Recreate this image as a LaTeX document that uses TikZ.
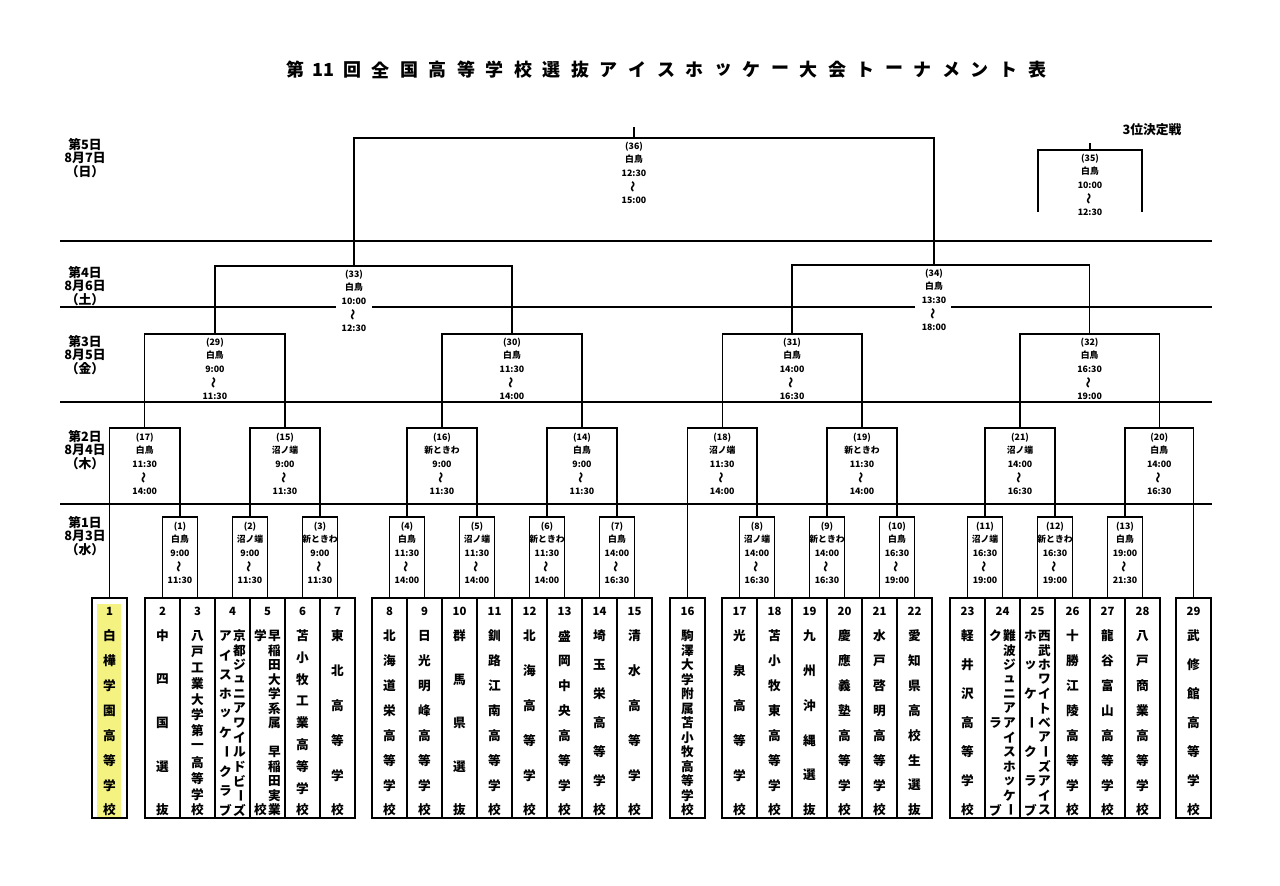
\documentclass[tikz,border=0pt]{standalone}
\usepackage{fontspec}
\newfontfamily\cjk{Noto Sans CJK JP}
\definecolor{hl}{RGB}{244,242,128}
\newcommand\vl{\rotatebox[origin=c]{-90}{ー}}
\newcommand\wv{\smash{\rotatebox[origin=c]{90}{\fontsize{8.5}{8.5}\selectfont ～}}}
\newcommand\tcol[4]{\foreach \tc [count=\kk] in {#4} {\node[tchar] (#3-\kk) at ({#1},{636+(\kk-1)*174/(#2-1)}) {\tc};}}
\begin{document}
\begin{tikzpicture}[x=0.75pt,y=-0.75pt,line width=1.1pt,
  every node/.style={inner sep=0pt,font=\cjk\bfseries},
  teambox/.style={draw,line width=1.1pt,minimum width=26.25pt,minimum height=165pt},
  mlabel/.style={align=center,anchor=north,font=\cjk\bfseries\fontsize{6.6}{10.1}\selectfont},
  tchar/.style={font=\cjk\bfseries\fontsize{9.5}{10}\selectfont},
  tnum/.style={font=\cjk\bfseries\fontsize{8.5}{10}\selectfont},
  dayl/.style={align=center,font=\cjk\bfseries\fontsize{9.6}{9.9}\selectfont},
  ttl/.style={font=\cjk\bfseries\fontsize{13.5}{14}\selectfont},
  dayline/.style={line width=1.1pt}]
\fill[white] (0,0) rectangle (1280,885);
\useasboundingbox (0,0) rectangle (1280,885);
% title
\foreach \tc [count=\kk] in {第,11,回,全,国,高,等,学,校,選,抜,ア,イ,ス,ホ,ッ,ケ,ー,大,会,ト,ー,ナ,メ,ン,ト,表}
  \node[ttl] (ttl\kk) at ({295+(\kk-1)*28.54},70) {\tc};
% day lines
\draw[dayline] (60,241) -- (1212,241);
\draw[dayline] (60,307) -- (336,307);
\draw[dayline] (372,307) -- (915,307);
\draw[dayline] (951,307) -- (1212,307);
\draw[dayline] (60,402) -- (1212,402);
\draw[dayline] (60,504) -- (1212,504);
% day labels
\node[dayl] (d5) at (85,158) {第5日\\8月7日\\（日）};
\node[dayl] (d4) at (85,286) {第4日\\8月6日\\（土）};
\node[dayl] (d3) at (85,355) {第3日\\8月5日\\（金）};
\node[dayl] (d2) at (85,450) {第2日\\8月4日\\（木）};
\node[dayl] (d1) at (85,536) {第1日\\8月3日\\（水）};
\node[dayl] (third) at (1152,130) {3位決定戦};
% highlight
\fill[hl] (97,604) rectangle (121,817);
% team boxes
\node[teambox] (t1) at (109.5,708) {};
\foreach \i in {2,...,7} \node[teambox] (t\i) at ({162.5+35*(\i-2)},708) {};
\foreach \i in {8,...,15} \node[teambox] (t\i) at ({389.5+35*(\i-8)},708) {};
\node[teambox] (t16) at (687.5,708) {};
\foreach \i in {17,...,22} \node[teambox] (t\i) at ({739.5+35*(\i-17)},708) {};
\foreach \i in {23,...,28} \node[teambox] (t\i) at ({967.5+35*(\i-23)},708) {};
\node[teambox] (t29) at (1193.5,708) {};
% team numbers
\node[tnum] (n1) at (109.5,611) {1};
\foreach \i in {2,...,7} \node[tnum] (n\i) at ({162.5+35*(\i-2)},611) {\i};
\foreach \i in {8,...,15} \node[tnum] (n\i) at ({389.5+35*(\i-8)},611) {\i};
\node[tnum] (n16) at (687.5,611) {16};
\foreach \i in {17,...,22} \node[tnum] (n\i) at ({739.5+35*(\i-17)},611) {\i};
\foreach \i in {23,...,28} \node[tnum] (n\i) at ({967.5+35*(\i-23)},611) {\i};
\node[tnum] (n29) at (1193.5,611) {29};
% team names
\tcol{109.5}{8}{c1}{白,樺,学,園,高,等,学,校}
\tcol{162.5}{5}{c2}{中,四,国,選,抜}
\tcol{197.5}{12}{c3}{八,戸,工,業,大,学,第,一,高,等,学,校}
\tcol{239.5}{13}{c4r}{京,都,ジ,ュ,ニ,ア,ワ,イ,ル,ド,ビ,\vl,ズ}
\tcol{225.5}{10}{c4l}{ア,イ,ス,ホ,ッ,ケ,\vl,ク,ラ,ブ}
\tcol{274.5}{13}{c5r}{早,稲,田,大,学,系,属,{},早,稲,田,実,業}
\tcol{260.5}{2}{c5l}{学,校}
\tcol{302.5}{9}{c6}{苫,小,牧,工,業,高,等,学,校}
\tcol{337.5}{6}{c7}{東,北,高,等,学,校}
\tcol{389.5}{8}{c8}{北,海,道,栄,高,等,学,校}
\tcol{424.5}{8}{c9}{日,光,明,峰,高,等,学,校}
\tcol{459.5}{5}{c10}{群,馬,県,選,抜}
\tcol{494.5}{8}{c11}{釧,路,江,南,高,等,学,校}
\tcol{529.5}{6}{c12}{北,海,高,等,学,校}
\tcol{564.5}{8}{c13}{盛,岡,中,央,高,等,学,校}
\tcol{599.5}{7}{c14}{埼,玉,栄,高,等,学,校}
\tcol{634.5}{6}{c15}{清,水,高,等,学,校}
\tcol{687.5}{13}{c16}{駒,澤,大,学,附,属,苫,小,牧,高,等,学,校}
\tcol{739.5}{6}{c17}{光,泉,高,等,学,校}
\tcol{774.5}{8}{c18}{苫,小,牧,東,高,等,学,校}
\tcol{809.5}{6}{c19}{九,州,沖,縄,選,抜}
\tcol{844.5}{8}{c20}{慶,應,義,塾,高,等,学,校}
\tcol{879.5}{8}{c21}{水,戸,啓,明,高,等,学,校}
\tcol{914.5}{8}{c22}{愛,知,県,高,校,生,選,抜}
\tcol{967.5}{7}{c23}{軽,井,沢,高,等,学,校}
\tcol{1009.5}{13}{c24r}{難,波,ジ,ュ,ニ,ア,ア,イ,ス,ホ,ッ,ケ,\vl}
\tcol{995.5}{3}{c24l}{ク,ラ,ブ}
\tcol{1044.5}{13}{c25r}{西,武,ホ,ワ,イ,ト,ベ,ア,\vl,ズ,ア,イ,ス}
\tcol{1030.5}{7}{c25l}{ホ,ッ,ケ,\vl,ク,ラ,ブ}
\tcol{1072.5}{8}{c26}{十,勝,江,陵,高,等,学,校}
\tcol{1107.5}{8}{c27}{龍,谷,富,山,高,等,学,校}
\tcol{1142.5}{8}{c28}{八,戸,商,業,高,等,学,校}
\tcol{1193.5}{7}{c29}{武,修,館,高,等,学,校}
% match coordinates
\coordinate (m36) at (634,138);
\coordinate (f36) at (634,127);
\coordinate (m35) at (1090,150);
\coordinate (f35) at (1090,143);
\coordinate (a35) at (1038,212);
\coordinate (b35) at (1142,212);
\coordinate (m33) at (354,266);
\coordinate (m34) at (934,265);
\coordinate (m29) at (214.9,334);
\coordinate (m30) at (512,334);
\coordinate (m31) at (792.1,334);
\coordinate (m32) at (1089.6,334);
\coordinate (m17) at (144.75,428);
\coordinate (m15) at (285,428);
\coordinate (m16) at (442,428);
\coordinate (m14) at (582,428);
\coordinate (m18) at (722.25,428);
\coordinate (m19) at (862,428);
\coordinate (m21) at (1020,428);
\coordinate (m20) at (1159.25,428);
\coordinate (m1) at (180,517);
\coordinate (m2) at (250,517);
\coordinate (m3) at (320,517);
\coordinate (m4) at (407,517);
\coordinate (m5) at (477,517);
\coordinate (m6) at (547,517);
\coordinate (m7) at (617,517);
\coordinate (m8) at (757,517);
\coordinate (m9) at (827,517);
\coordinate (m10) at (897,517);
\coordinate (m11) at (985,517);
\coordinate (m12) at (1055,517);
\coordinate (m13) at (1125,517);
% round 1
\draw (t2.north) |- (m1) -| (t3.north);
\draw (t4.north) |- (m2) -| (t5.north);
\draw (t6.north) |- (m3) -| (t7.north);
\draw (t8.north) |- (m4) -| (t9.north);
\draw (t10.north) |- (m5) -| (t11.north);
\draw (t12.north) |- (m6) -| (t13.north);
\draw (t14.north) |- (m7) -| (t15.north);
\draw (t17.north) |- (m8) -| (t18.north);
\draw (t19.north) |- (m9) -| (t20.north);
\draw (t21.north) |- (m10) -| (t22.north);
\draw (t23.north) |- (m11) -| (t24.north);
\draw (t25.north) |- (m12) -| (t26.north);
\draw (t27.north) |- (m13) -| (t28.north);
% round 2
\draw (t1.north) |- (m17) -| (m1);
\draw (m2) |- (m15) -| (m3);
\draw (m4) |- (m16) -| (m5);
\draw (m6) |- (m14) -| (m7);
\draw (t16.north) |- (m18) -| (m8);
\draw (m9) |- (m19) -| (m10);
\draw (m11) |- (m21) -| (m12);
\draw (m13) |- (m20) -| (t29.north);
% round 3
\draw (m17) |- (m29) -| (m15);
\draw (m16) |- (m30) -| (m14);
\draw (m18) |- (m31) -| (m19);
\draw (m21) |- (m32) -| (m20);
% semifinals and final
\draw (m29) |- (m33) -| (m30);
\draw (m31) |- (m34) -| (m32);
\draw (m33) |- (m36) -| (m34);
\draw (m36) -- (f36);
\draw (a35) |- (m35) -| (b35);
\draw (m35) -- (f35);
% match labels
\node[mlabel] (l36) at (634,141) {(36)\\白鳥\\12:30\\\wv\\15:00};
\node[mlabel] (l35) at (1090,153) {(35)\\白鳥\\10:00\\\wv\\12:30};
\node[mlabel] (l33) at (354,269) {(33)\\白鳥\\10:00\\\wv\\12:30};
\node[mlabel] (l34) at (934,268) {(34)\\白鳥\\13:30\\\wv\\18:00};
\node[mlabel] (l29) at (214.9,337) {(29)\\白鳥\\9:00\\\wv\\11:30};
\node[mlabel] (l30) at (512,337) {(30)\\白鳥\\11:30\\\wv\\14:00};
\node[mlabel] (l31) at (792.1,337) {(31)\\白鳥\\14:00\\\wv\\16:30};
\node[mlabel] (l32) at (1089.6,337) {(32)\\白鳥\\16:30\\\wv\\19:00};
\node[mlabel] (l17) at (144.75,432) {(17)\\白鳥\\11:30\\\wv\\14:00};
\node[mlabel] (l15) at (285,432) {(15)\\沼ノ端\\9:00\\\wv\\11:30};
\node[mlabel] (l16) at (442,432) {(16)\\新ときわ\\9:00\\\wv\\11:30};
\node[mlabel] (l14) at (582,432) {(14)\\白鳥\\9:00\\\wv\\11:30};
\node[mlabel] (l18) at (722.25,432) {(18)\\沼ノ端\\11:30\\\wv\\14:00};
\node[mlabel] (l19) at (862,432) {(19)\\新ときわ\\11:30\\\wv\\14:00};
\node[mlabel] (l21) at (1020,432) {(21)\\沼ノ端\\14:00\\\wv\\16:30};
\node[mlabel] (l20) at (1159.25,432) {(20)\\白鳥\\14:00\\\wv\\16:30};
\node[mlabel] (l1) at (180,521) {(1)\\白鳥\\9:00\\\wv\\11:30};
\node[mlabel] (l2) at (250,521) {(2)\\沼ノ端\\9:00\\\wv\\11:30};
\node[mlabel] (l3) at (320,521) {(3)\\新ときわ\\9:00\\\wv\\11:30};
\node[mlabel] (l4) at (407,521) {(4)\\白鳥\\11:30\\\wv\\14:00};
\node[mlabel] (l5) at (477,521) {(5)\\沼ノ端\\11:30\\\wv\\14:00};
\node[mlabel] (l6) at (547,521) {(6)\\新ときわ\\11:30\\\wv\\14:00};
\node[mlabel] (l7) at (617,521) {(7)\\白鳥\\14:00\\\wv\\16:30};
\node[mlabel] (l8) at (757,521) {(8)\\沼ノ端\\14:00\\\wv\\16:30};
\node[mlabel] (l9) at (827,521) {(9)\\新ときわ\\14:00\\\wv\\16:30};
\node[mlabel] (l10) at (897,521) {(10)\\白鳥\\16:30\\\wv\\19:00};
\node[mlabel] (l11) at (985,521) {(11)\\沼ノ端\\16:30\\\wv\\19:00};
\node[mlabel] (l12) at (1055,521) {(12)\\新ときわ\\16:30\\\wv\\19:00};
\node[mlabel] (l13) at (1125,521) {(13)\\白鳥\\19:00\\\wv\\21:30};
\end{tikzpicture}
\end{document}
